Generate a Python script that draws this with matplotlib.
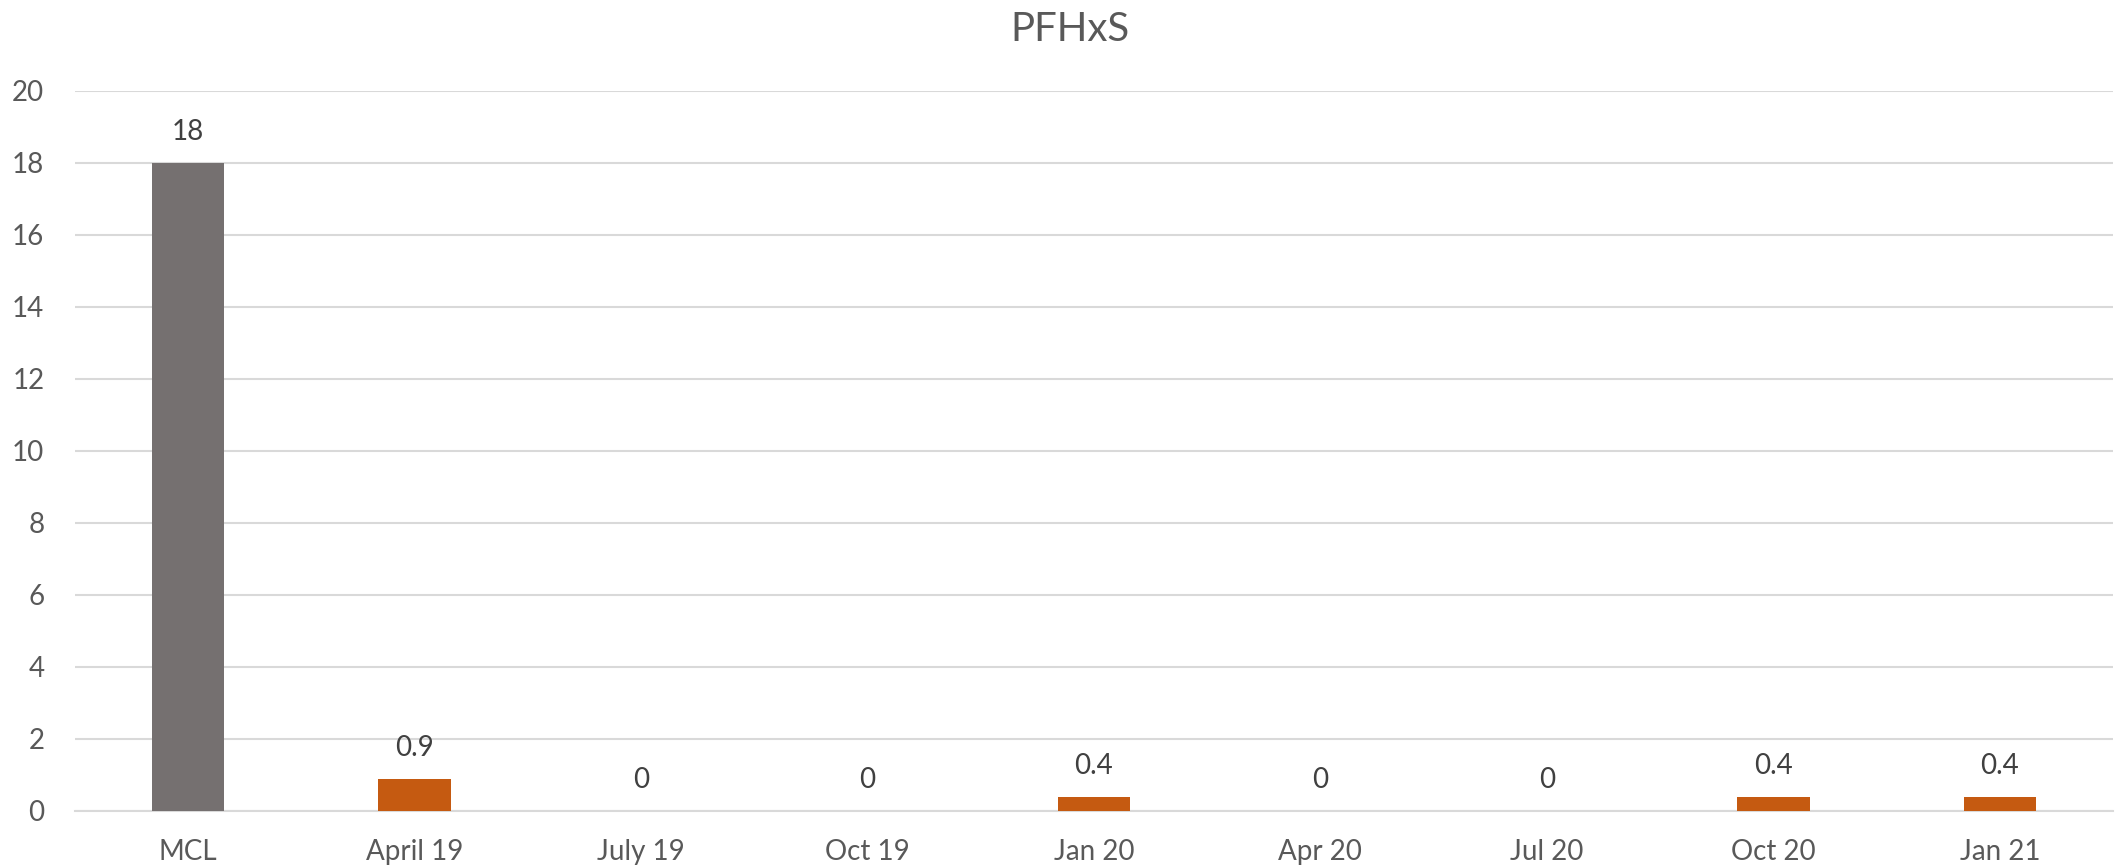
import numpy as np
import matplotlib.pyplot as plt

categories = ['MCL', 'April 19', 'July 19', 'Oct 19', 'Jan 20', 'Apr 20', 'Jul 20', 'Oct 20', 'Jan 21']
values = [18, 0.9, 0, 0, 0.4, 0, 0, 0.4, 0.4]
labels = ['18', '0.9', '0', '0', '0.4', '0', '0', '0.4', '0.4']
yticks = [0, 2, 4, 6, 8, 10, 12, 14, 16, 18, 20]

plt.rcParams['font.family'] = ['Lato', 'DejaVu Sans']
txt = '#595959'

fig = plt.figure(figsize=(21.16, 8.68), dpi=100)
ax = fig.add_axes([0.0354, 0.0657, 0.9632, 0.8295])

x = np.arange(len(categories))
colors = ['#757070'] + ['#C55A11'] * (len(categories) - 1)
bars = ax.bar(x, values, width=0.32, color=colors, zorder=3)

for xi, v, lab in zip(x, values, labels):
    ax.annotate(lab, (xi, v), xytext=(0, 22), textcoords='offset points',
                ha='center', va='center', fontsize=20, color='#404040')

ax.set_xlim(-0.5, len(categories) - 0.5)
ax.set_ylim(0, 20)
ax.set_yticks(yticks)
ax.set_xticks(x)
ax.set_xticklabels(categories)
ax.yaxis.grid(True, color='#D9D9D9', linewidth=1.5, zorder=0)
ax.tick_params(axis='both', length=0, labelsize=20, labelcolor=txt)
ax.tick_params(axis='y', pad=22)
ax.tick_params(axis='x', pad=20)
for s in ['top', 'right', 'left']:
    ax.spines[s].set_visible(False)
ax.spines['bottom'].set_color('#D9D9D9')
ax.spines['bottom'].set_linewidth(1.5)

fig.text(0.5057, 0.966, 'PFHxS', ha='center', va='center', fontsize=29, color=txt)

fig.savefig('out.png', dpi=100)
